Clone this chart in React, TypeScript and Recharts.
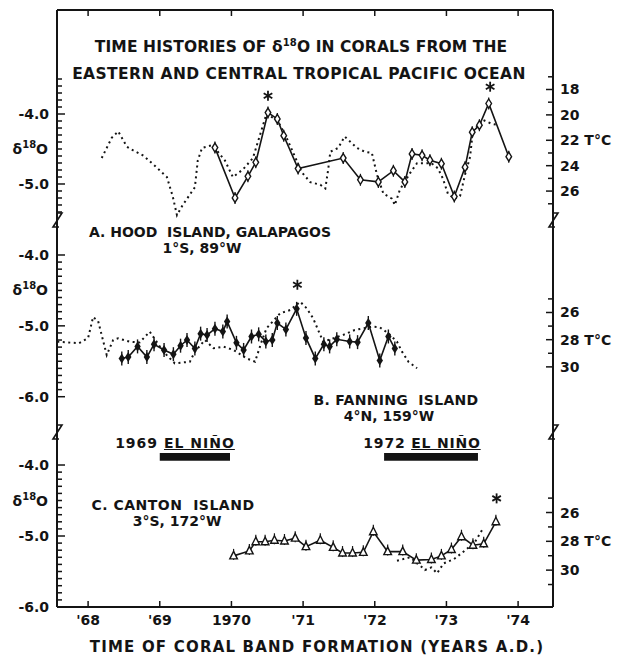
import React from "react";
import { ComposedChart, Line, Scatter, XAxis, YAxis, ReferenceArea } from "recharts";

const FONT = "'DejaVu Sans', Verdana, sans-serif";
const INK = "#141414";
const W = 618;
const PLOT_L = 57;
const PLOT_R = 553;
const X_DOMAIN: [number, number] = [1967.566, 1974.487];

// x axis
const yearTicks = [1968, 1969, 1970, 1971, 1972, 1973, 1974];
const yearLabels = ["'68", "'69", "1970", "'71", "'72", "'73", "'74"];

// A. Hood Island, Galapagos
const hoodYears = [1969.77, 1970.05, 1970.23, 1970.34, 1970.51, 1970.64, 1970.73, 1970.93, 1971.56, 1971.8, 1972.05, 1972.26, 1972.42, 1972.52, 1972.66, 1972.77, 1972.93, 1973.11, 1973.26, 1973.36, 1973.46, 1973.59, 1973.87];
const hoodD18O = [-4.48, -5.2, -4.89, -4.69, -3.98, -4.07, -4.31, -4.78, -4.63, -4.94, -4.97, -4.81, -4.97, -4.57, -4.59, -4.66, -4.71, -5.18, -4.76, -4.26, -4.16, -3.85, -4.61];
const hoodSstYears = [1968.19, 1968.33, 1968.42, 1968.54, 1968.63, 1968.77, 1968.93, 1969.1, 1969.18, 1969.24, 1969.32, 1969.49, 1969.53, 1969.59, 1969.72, 1969.81, 1969.91, 1970.02, 1970.16, 1970.3, 1970.49, 1970.65, 1970.77, 1970.98, 1971.1, 1971.24, 1971.31, 1971.35, 1971.38, 1971.49, 1971.58, 1971.75, 1971.86, 1971.96, 1972.03, 1972.12, 1972.24, 1972.28, 1972.35, 1972.49, 1972.59, 1972.79, 1972.88, 1972.95, 1973.02, 1973.11, 1973.19, 1973.26, 1973.33, 1973.37, 1973.46, 1973.51, 1973.63, 1973.72];
const hoodSst = [23.4, 21.8, 21.3, 22.5, 22.8, 23.2, 24.0, 24.9, 26.4, 27.9, 27.1, 25.7, 23.6, 22.6, 22.4, 22.9, 23.6, 24.9, 24.3, 23.4, 19.9, 20.5, 21.8, 24.5, 25.3, 25.5, 25.8, 24.3, 22.9, 22.6, 21.7, 22.6, 22.9, 23.0, 24.7, 26.2, 26.6, 27.1, 25.9, 24.6, 23.8, 23.8, 24.2, 25.0, 26.2, 26.6, 26.4, 24.7, 23.3, 21.2, 20.8, 20.4, 20.7, 20.8];
const hoodStarYears = [1970.51, 1973.61];
const hoodStarD18O = [-3.74, -3.61];
const hoodDTicks = [-3.5, -3.6, -3.7, -3.8, -3.9, -4.0, -4.1, -4.2, -4.3, -4.4, -4.5, -4.6, -4.7, -4.8, -4.9, -5.0, -5.1, -5.2, -5.3, -5.4];
const hoodTTicks = [17, 18, 19, 20, 21, 22, 23, 24, 25, 26, 27];
const hoodTLabels = ["", "18", "", "20", "", "22 T°C", "", "24", "", "26", ""];

// B. Fanning Island
const fanningYears = [1968.47, 1968.56, 1968.69, 1968.82, 1968.92, 1969.06, 1969.19, 1969.29, 1969.38, 1969.49, 1969.57, 1969.66, 1969.77, 1969.88, 1969.94, 1970.07, 1970.17, 1970.28, 1970.38, 1970.48, 1970.57, 1970.64, 1970.76, 1970.91, 1971.04, 1971.17, 1971.29, 1971.37, 1971.47, 1971.65, 1971.76, 1971.91, 1972.07, 1972.19, 1972.28];
const fanningD18O = [-5.46, -5.44, -5.29, -5.44, -5.26, -5.34, -5.4, -5.28, -5.2, -5.32, -5.11, -5.13, -5.04, -5.08, -4.94, -5.24, -5.34, -5.15, -5.12, -5.22, -5.2, -4.96, -5.05, -4.76, -5.17, -5.46, -5.26, -5.29, -5.19, -5.22, -5.23, -4.96, -5.49, -5.15, -5.32];
const fanningSstYears = [1967.57, 1967.87, 1968.0, 1968.07, 1968.14, 1968.26, 1968.35, 1968.42, 1968.58, 1968.72, 1968.86, 1969.05, 1969.21, 1969.42, 1969.49, 1969.63, 1969.75, 1969.89, 1970.03, 1970.21, 1970.33, 1970.42, 1970.49, 1970.68, 1970.82, 1970.96, 1971.05, 1971.14, 1971.21, 1971.28, 1971.42, 1971.56, 1971.72, 1971.96, 1972.07, 1972.19, 1972.31, 1972.38, 1972.47, 1972.59];
const fanningSst = [28.15, 28.26, 27.88, 26.33, 26.63, 29.13, 28.02, 27.9, 28.15, 28.2, 27.41, 28.88, 29.74, 29.62, 28.88, 28.02, 28.63, 28.51, 28.76, 29.37, 29.62, 28.15, 27.16, 26.06, 25.82, 25.21, 25.69, 26.43, 27.29, 28.15, 27.9, 27.65, 27.29, 27.04, 27.09, 27.53, 28.15, 28.88, 29.62, 30.1];
const fanningStarYears = [1970.92];
const fanningStarD18O = [-4.42];
const fanningDTicks = [-4.0, -4.1, -4.2, -4.3, -4.4, -4.5, -4.6, -4.7, -4.8, -4.9, -5.0, -5.1, -5.2, -5.3, -5.4, -5.5, -5.6, -5.7, -5.8, -5.9, -6.0];
const fanningTTicks = [25, 26, 27, 28, 29, 30];
const fanningTLabels = ["", "26", "", "28 T°C", "", "30"];

// C. Canton Island
const cantonYears = [1970.03, 1970.25, 1970.34, 1970.47, 1970.6, 1970.74, 1970.89, 1971.04, 1971.24, 1971.42, 1971.55, 1971.69, 1971.84, 1971.98, 1972.18, 1972.39, 1972.58, 1972.79, 1972.93, 1973.07, 1973.21, 1973.37, 1973.52, 1973.69];
const cantonD18O = [-5.28, -5.21, -5.08, -5.08, -5.06, -5.07, -5.03, -5.15, -5.06, -5.16, -5.24, -5.24, -5.23, -4.94, -5.22, -5.22, -5.34, -5.33, -5.28, -5.19, -5.01, -5.13, -5.11, -4.8];
const cantonSstYears = [1972.31, 1972.49, 1972.61, 1972.7, 1972.79, 1972.87, 1972.96, 1973.1, 1973.21, 1973.31, 1973.4, 1973.52];
const cantonSst = [29.35, 29.11, 29.58, 29.99, 29.81, 30.22, 29.53, 29.25, 28.83, 28.42, 28.03, 27.03];
const cantonStarYears = [1973.7];
const cantonStarD18O = [-4.47];
const cantonDTicks = fanningDTicks;
const cantonTTicks = [25, 26, 27, 28, 29, 30, 31];
const cantonTLabels = ["", "26", "", "28 T°C", "", "30", ""];

// El Nino bars
const elNinoStart = [1969.0, 1972.13];
const elNinoEnd = [1969.98, 1973.44];
const elNinoTop = -3.83;
const elNinoBottom = -3.94;

const zip = (xs: number[], ys: number[], key: string) => xs.map((x, i) => ({ year: x, [key]: ys[i] }));

const tickFont = { fontFamily: FONT, fontWeight: 700, fontSize: 14, fill: INK };

const LeftTick = (props: any) => {
  const { y, payload } = props;
  const v: number = payload.value;
  const whole = Math.abs(v - Math.round(v)) < 0.001;
  const isDelta = Math.abs(v + 4.5) < 0.001;
  return (
    <g>
      <line x1={PLOT_L} x2={PLOT_L + (whole ? 8 : 5)} y1={y} y2={y} stroke={INK} strokeWidth={1.5} />
      {whole && (
        <text x={PLOT_L - 8} y={y + 5} textAnchor="end" style={tickFont}>
          {v.toFixed(1)}
        </text>
      )}
      {isDelta && (
        <text x={PLOT_L - 9} y={y + 5} textAnchor="end" style={tickFont}>
          δ<tspan dy={-6} fontSize={10}>18</tspan>
          <tspan dy={6}>O</tspan>
        </text>
      )}
    </g>
  );
};

const makeRightTick = (ticks: number[], labels: string[]) => (props: any) => {
  const { y, payload } = props;
  const label = labels[ticks.indexOf(payload.value)] || "";
  return (
    <g>
      <line x1={PLOT_R - (label ? 7 : 5)} x2={PLOT_R} y1={y} y2={y} stroke={INK} strokeWidth={1.5} />
      {label && (
        <text x={PLOT_R + 7} y={y + 5} textAnchor="start" style={tickFont}>
          {label}
        </text>
      )}
    </g>
  );
};

const TopTick = (props: any) => {
  const { x } = props;
  return <line x1={x} x2={x} y1={10} y2={16} stroke={INK} strokeWidth={1.5} />;
};

const C_BOTTOM = 175;
const BottomTick = (props: any) => {
  const { x, payload } = props;
  const label = yearLabels[yearTicks.indexOf(payload.value)];
  return (
    <g>
      <line x1={x} x2={x} y1={C_BOTTOM} y2={C_BOTTOM - 6} stroke={INK} strokeWidth={1.5} />
      <text x={x} y={C_BOTTOM + 18} textAnchor="middle" style={tickFont}>
        {label}
      </text>
    </g>
  );
};

const OpenDiamond = ({ cx, cy }: any) => (
  <g>
    <line x1={cx} x2={cx} y1={cy - 6} y2={cy + 6} stroke={INK} strokeWidth={1.2} />
    <path d={`M${cx},${cy - 4.5}L${cx + 2.8},${cy}L${cx},${cy + 4.5}L${cx - 2.8},${cy}Z`} fill="#fff" stroke={INK} strokeWidth={1.4} />
  </g>
);

const FilledDiamond = ({ cx, cy }: any) => (
  <g>
    <line x1={cx} x2={cx} y1={cy - 7} y2={cy + 7} stroke={INK} strokeWidth={1.4} />
    <path d={`M${cx},${cy - 5}L${cx + 3.2},${cy}L${cx},${cy + 5}L${cx - 3.2},${cy}Z`} fill={INK} />
  </g>
);

const OpenTriangle = ({ cx, cy }: any) => (
  <g>
    <line x1={cx} x2={cx} y1={cy - 7} y2={cy + 4} stroke={INK} strokeWidth={1.2} />
    <path d={`M${cx},${cy - 4.5}L${cx + 3.8},${cy + 3}L${cx - 3.8},${cy + 3}Z`} fill="#fff" stroke={INK} strokeWidth={1.4} />
  </g>
);

const Star = ({ cx, cy }: any) => (
  <g stroke={INK} strokeWidth={1.8}>
    <line x1={cx} y1={cy - 5} x2={cx} y2={cy + 5} />
    <line x1={cx - 4.3} y1={cy - 2.5} x2={cx + 4.3} y2={cy + 2.5} />
    <line x1={cx - 4.3} y1={cy + 2.5} x2={cx + 4.3} y2={cy - 2.5} />
  </g>
);

const Txt = ({ x, y, size = 14, spacing = 0, children }: any) => (
  <div
    style={{
      position: "absolute",
      left: x,
      top: y,
      transform: "translate(-50%, -50%)",
      whiteSpace: "nowrap",
      fontFamily: FONT,
      fontWeight: 700,
      fontSize: size,
      letterSpacing: spacing,
      lineHeight: 1,
      color: INK,
    }}
  >
    {children}
  </div>
);

const Break = ({ x, y }: any) => (
  <svg style={{ position: "absolute", left: x - 8, top: y - 10, overflow: "visible" }} width={16} height={20}>
    <path d="M8,2 L13,2 L4,16 L10,16" fill="none" stroke={INK} strokeWidth={1.6} />
  </svg>
);

const axisLine = { stroke: INK, strokeWidth: 2 };

type PanelProps = {
  height: number;
  dDomain: [number, number];
  tDomain: [number, number];
  dTicks: number[];
  tTicks: number[];
  tLabels: string[];
  solid: any[];
  sst: any[];
  stars: any[];
  dot: (p: any) => React.ReactElement;
  axis: "top" | "bottom" | "none";
  children?: React.ReactNode;
};

const Panel = (p: PanelProps) => (
  <ComposedChart width={W} height={p.height} margin={{ top: 0, right: 0, bottom: 0, left: 0 }}>
    {p.axis === "top" && (
      <XAxis
        type="number"
        dataKey="year"
        orientation="top"
        height={10}
        domain={X_DOMAIN}
        allowDataOverflow
        ticks={yearTicks}
        interval={0}
        tick={<TopTick />}
        tickLine={false}
        axisLine={axisLine}
      />
    )}
    {p.axis === "bottom" && (
      <XAxis
        type="number"
        dataKey="year"
        orientation="bottom"
        height={50}
        domain={X_DOMAIN}
        allowDataOverflow
        ticks={yearTicks}
        interval={0}
        tick={<BottomTick />}
        tickLine={false}
        axisLine={axisLine}
      />
    )}
    {p.axis === "none" && <XAxis type="number" dataKey="year" domain={X_DOMAIN} allowDataOverflow hide />}
    <YAxis
      yAxisId="d"
      orientation="left"
      width={PLOT_L}
      domain={p.dDomain}
      allowDataOverflow
      ticks={p.dTicks}
      interval={0}
      tick={<LeftTick />}
      tickLine={false}
      axisLine={axisLine}
    />
    <YAxis
      yAxisId="t"
      orientation="right"
      width={W - PLOT_R}
      domain={p.tDomain}
      reversed
      allowDataOverflow
      ticks={p.tTicks}
      interval={0}
      tick={makeRightTick(p.tTicks, p.tLabels)}
      tickLine={false}
      axisLine={axisLine}
    />
    {p.children}
    <Line
      yAxisId="t"
      data={p.sst}
      dataKey="t"
      type="linear"
      stroke={INK}
      strokeWidth={2}
      strokeDasharray="2 3.5"
      dot={false}
      activeDot={false}
      isAnimationActive={false}
    />
    <Line
      yAxisId="d"
      data={p.solid}
      dataKey="d"
      type="linear"
      stroke={INK}
      strokeWidth={1.6}
      dot={p.dot}
      activeDot={false}
      isAnimationActive={false}
    />
    <Scatter yAxisId="d" data={p.stars} dataKey="d" shape={(s: any) => <Star cx={s.cx} cy={s.cy} />} isAnimationActive={false} />
  </ComposedChart>
);

export default function App() {
  return (
    <div style={{ position: "absolute", left: 0, top: 0, width: W, height: 657, background: "#fff", overflow: "hidden" }}>
      <div style={{ position: "absolute", left: 0, top: 0 }}>
        <Panel
          height={218}
          dDomain={[-5.486, -2.514]}
          tDomain={[11.74, 28.12]}
          dTicks={hoodDTicks}
          tTicks={hoodTTicks}
          tLabels={hoodTLabels}
          solid={zip(hoodYears, hoodD18O, "d")}
          sst={zip(hoodSstYears, hoodSst, "t")}
          stars={zip(hoodStarYears, hoodStarD18O, "d")}
          dot={(d: any) => <OpenDiamond key={d.index} cx={d.cx} cy={d.cy} />}
          axis="top"
        />
      </div>
      <div style={{ position: "absolute", left: 0, top: 218 }}>
        <Panel
          height={214}
          dDomain={[-6.498, -3.478]}
          tDomain={[19.05, 34.79]}
          dTicks={fanningDTicks}
          tTicks={fanningTTicks}
          tLabels={fanningTLabels}
          solid={zip(fanningYears, fanningD18O, "d")}
          sst={zip(fanningSstYears, fanningSst, "t")}
          stars={zip(fanningStarYears, fanningStarD18O, "d")}
          dot={(d: any) => <FilledDiamond key={d.index} cx={d.cx} cy={d.cy} />}
          axis="none"
        />
      </div>
      <div style={{ position: "absolute", left: 0, top: 432 }}>
        <Panel
          height={225}
          dDomain={[-6.0, -3.535]}
          tDomain={[20.41, 32.56]}
          dTicks={cantonDTicks}
          tTicks={cantonTTicks}
          tLabels={cantonTLabels}
          solid={zip(cantonYears, cantonD18O, "d")}
          sst={zip(cantonSstYears, cantonSst, "t")}
          stars={zip(cantonStarYears, cantonStarD18O, "d")}
          dot={(d: any) => <OpenTriangle key={d.index} cx={d.cx} cy={d.cy} />}
          axis="bottom"
        >
          {elNinoStart.map((s, i) => (
            <ReferenceArea
              key={i}
              yAxisId="d"
              x1={s}
              x2={elNinoEnd[i]}
              y1={elNinoBottom}
              y2={elNinoTop}
              fill={INK}
              fillOpacity={1}
              stroke="none"
              ifOverflow="visible"
            />
          ))}
        </Panel>
      </div>

      <Break x={PLOT_L} y={221} />
      <Break x={PLOT_R} y={221} />
      <Break x={PLOT_L} y={433} />
      <Break x={PLOT_R} y={433} />

      <Txt x={301} y={48} size={15.5} spacing={0.1}>
        TIME HISTORIES OF δ<span style={{ fontSize: 10, position: "relative", top: -6 }}>18</span>O IN CORALS FROM THE
      </Txt>
      <Txt x={299} y={75} size={15.5} spacing={0.4}>EASTERN AND CENTRAL TROPICAL PACIFIC OCEAN</Txt>
      <Txt x={210} y={232}>A. HOOD&nbsp; ISLAND, GALAPAGOS</Txt>
      <Txt x={202} y={248}>1°S, 89°W</Txt>
      <Txt x={396} y={400} spacing={0.3}>B. FANNING&nbsp; ISLAND</Txt>
      <Txt x={389} y={416}>4°N, 159°W</Txt>
      <Txt x={175} y={443} spacing={1}>
        1969 <span style={{ textDecoration: "underline" }}>EL NIÑO</span>
      </Txt>
      <Txt x={422} y={443} spacing={0.8}>
        1972 <span style={{ textDecoration: "underline" }}>EL NIÑO</span>
      </Txt>
      <Txt x={173} y={505} spacing={0.5}>C. CANTON&nbsp; ISLAND</Txt>
      <Txt x={177} y={521}>3°S, 172°W</Txt>
      <Txt x={317} y={647} size={15} spacing={1.2}>TIME OF CORAL BAND FORMATION (YEARS A.D.)</Txt>
    </div>
  );
}
